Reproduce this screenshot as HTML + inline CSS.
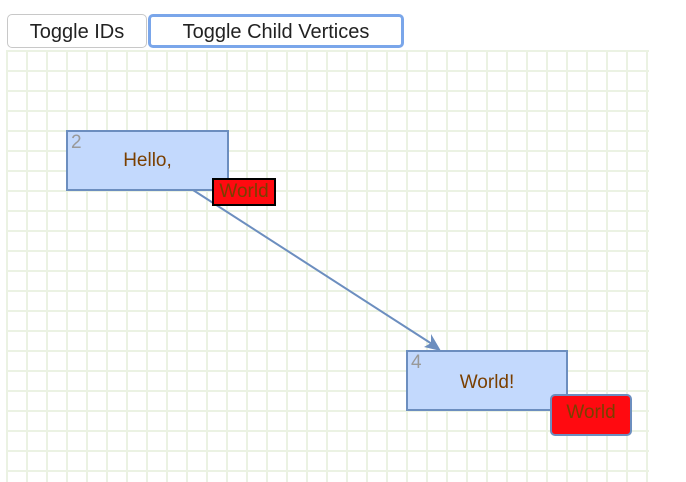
<!DOCTYPE html><html><head><style>
body{margin:0;width:686px;height:482px;background:#fff;position:relative;overflow:hidden;font-family:"Liberation Sans",sans-serif}
.btn{position:absolute;top:14px;height:34px;box-sizing:border-box;border:1px solid #c8c8c8;border-radius:5px;background:#fff;font-size:20px;color:#222;line-height:34px;text-align:center}
.grid{position:absolute;left:6px;top:50px;width:643px;height:432px;background-image:linear-gradient(to right,#ebf2e3 2px,transparent 2px),linear-gradient(to bottom,#ebf2e3 2px,transparent 2px);background-size:20px 20px}
.v{position:absolute;box-sizing:border-box;background:#c3d9fd;border:2px solid #6c8ebf;color:#7a3f00;font-size:19px;text-align:center}
.id{position:absolute;left:3px;top:1px;color:#999;font-size:19px;line-height:20px}
.c{position:absolute;box-sizing:border-box;background:#ff0a10;color:#7a3f00;font-size:19px;text-align:center}
</style></head><body>
<div class="btn" style="left:7px;width:140px">Toggle IDs</div>
<div class="btn" style="left:148px;width:256px;border:3px solid #7aa6ea;line-height:30px">Toggle Child Vertices</div>
<div class="grid"></div>
<svg style="position:absolute;left:0;top:0" width="686" height="482"><line x1="193" y1="190" x2="432" y2="344" stroke="#6c8ebf" stroke-width="2"/><polygon points="441,351 424,347 431,343 431,334" fill="#6c8ebf"/></svg>
<div class="v" style="left:66px;top:130px;width:163px;height:61px;line-height:58px">Hello,<span class="id">2</span></div>
<div class="v" style="left:406px;top:350px;width:162px;height:61px;line-height:61px">World!<span class="id">4</span></div>
<div class="c" style="left:212px;top:178px;width:64px;height:28px;border:2px solid #000;line-height:24px">World</div>
<div class="c" style="left:550px;top:394px;width:82px;height:42px;border:2px solid #6c8ebf;border-radius:5px;line-height:34px">World</div>
</body></html>
